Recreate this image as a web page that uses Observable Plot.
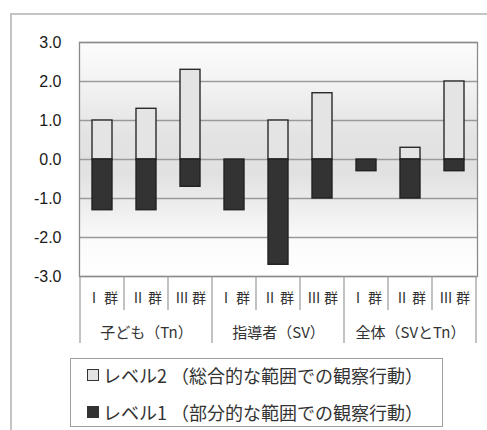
<!DOCTYPE html>
<html>
<head>
<meta charset="utf-8">
<script src="https://cdn.jsdelivr.net/npm/d3@7"></script>
<script src="https://cdn.jsdelivr.net/npm/@observablehq/plot@0.6"></script>
<style>
  html, body { margin: 0; padding: 0; background: #fff; }
  #wrap { position: relative; width: 487px; height: 430px; overflow: hidden; font-family: "Noto Sans CJK JP", "Noto Sans", sans-serif; color: #333; background: #fff; }
  #outer { position: absolute; left: 10px; top: 13px; width: 520px; height: 460px; border-left: 2px solid #c4c4c4; border-top: 2px solid #c4c4c4; box-sizing: border-box; }
  #bg { position: absolute; left: 79px; top: 42px; width: 398px; height: 234px;
        background: linear-gradient(to bottom, #fcfcfc 0%, #f3f3f3 17%, #e3e3e3 40%, #e1e1e1 56%, #ededed 70%, #fafafa 84%, #ffffff 100%); }
  #chart { position: absolute; left: 0; top: 0; }
  #legend { position: absolute; left: 70px; top: 358px; width: 373px; height: 69px; border: 1.5px solid #a0a0a0; box-sizing: border-box; background: #fff; }
  .row { position: absolute; left: 16px; display: flex; align-items: center; font-size: 18px; line-height: 20px; white-space: nowrap; color: #333; }
  .sw { display: inline-block; width: 12px; height: 12px; box-sizing: border-box; border: 1.5px solid #333; margin-right: 4px; }
</style>
</head>
<body>
<div id="wrap">
  <div id="outer"></div>
  <div id="bg"></div>
  <div id="chart"></div>
  <div id="legend"></div>
</div>
<script>
// ---- data ----
const groups = ["子ども（Tn）", "指導者（SV）", "全体（SVとTn）"];
const subs = ["Ⅰ 群", "Ⅱ 群", "Ⅲ 群"];
const level2 = [1.0, 1.3, 2.3, 0.0, 1.0, 1.7, 0.0, 0.3, 2.0];
const level1 = [-1.3, -1.3, -0.7, -1.3, -2.7, -1.0, -0.3, -1.0, -0.3];
const yTicks = [-3, -2, -1, 0, 1, 2, 3];
const seriesNames = ["レベル2 （総合的な範囲での観察行動）", "レベル1 （部分的な範囲での観察行動）"];
const seriesFill = ["#e4e4e4", "#333333"];

const rows = groups.flatMap((g, gi) => subs.map((s, si) => ({
  key: g + "|" + s, group: g, sub: s, gi, si,
  l2: level2[gi * 3 + si], l1: level1[gi * 3 + si]
})));
const keys = rows.map(d => d.key);
const jp = "'Noto Sans CJK JP', sans-serif";

// separators below the frame, computed from the band scale
function separators(index, scales, values, dimensions) {
  const x = scales.x;
  const bw = typeof x.bandwidth === "function" ? x.bandwidth() : x.bandwidth;
  const centers = keys.map(k => x(k) + bw / 2);
  const step = centers[1] - centers[0];
  const y0 = dimensions.height - dimensions.marginBottom;
  const g = d3.create("svg:g").attr("stroke", "#999").attr("stroke-width", 1.2);
  for (let i = 0; i <= keys.length; i++) {
    const xb = i === 0 ? centers[0] - step / 2 : i === keys.length ? centers[i - 1] + step / 2 : (centers[i - 1] + centers[i]) / 2;
    const major = i % 3 === 0;
    g.append("line").attr("x1", xb).attr("x2", xb).attr("y1", y0).attr("y2", y0 + (major ? 67 : 34));
  }
  return g.node();
}

const plot = Plot.plot({
  width: 487,
  height: 350,
  marginLeft: 79,
  marginRight: 10,
  marginTop: 42,
  marginBottom: 74,
  style: { fontFamily: "'Liberation Sans', Arial, sans-serif", color: "#222", background: "transparent" },
  x: { domain: keys, paddingInner: 0.55, paddingOuter: 0.275, axis: null },
  y: { domain: [-3, 3], axis: null },
  marks: [
    Plot.ruleY(yTicks, { stroke: "#9a9a9a", strokeWidth: 1.3 }),
    Plot.barY(rows.filter(d => d.l2 !== 0), { x: "key", y: "l2", fill: seriesFill[0], stroke: "#2a2a2a", strokeWidth: 1.4 }),
    Plot.barY(rows, { x: "key", y: "l1", fill: seriesFill[1], stroke: "#222", strokeWidth: 1.4 }),
    Plot.frame({ stroke: "#8a8a8a", strokeWidth: 1.3 }),
    Plot.text(yTicks, { y: d => d, text: d => d.toFixed(1), frameAnchor: "left", dx: -18, textAnchor: "end", fontSize: 16, fill: "#1a1a1a" }),
    Plot.text(rows, { x: "key", text: "sub", frameAnchor: "bottom", dy: 26, fontSize: 14, fontFamily: jp, fill: "#333" }),
    Plot.text(rows.filter(d => d.si === 1), { x: "key", text: "group", frameAnchor: "bottom", dy: 61, fontSize: 15, fontFamily: jp, fill: "#333" }),
    separators
  ]
});

document.getElementById("chart").appendChild(plot);

// legend
const legend = d3.select("#legend");
seriesNames.forEach((name, i) => {
  const row = legend.append("div").attr("class", "row").style("top", (i === 0 ? 6 : 43) + "px");
  row.append("span").attr("class", "sw").style("background", seriesFill[i]);
  row.append("span").text(name);
});
</script>
</body>
</html>
